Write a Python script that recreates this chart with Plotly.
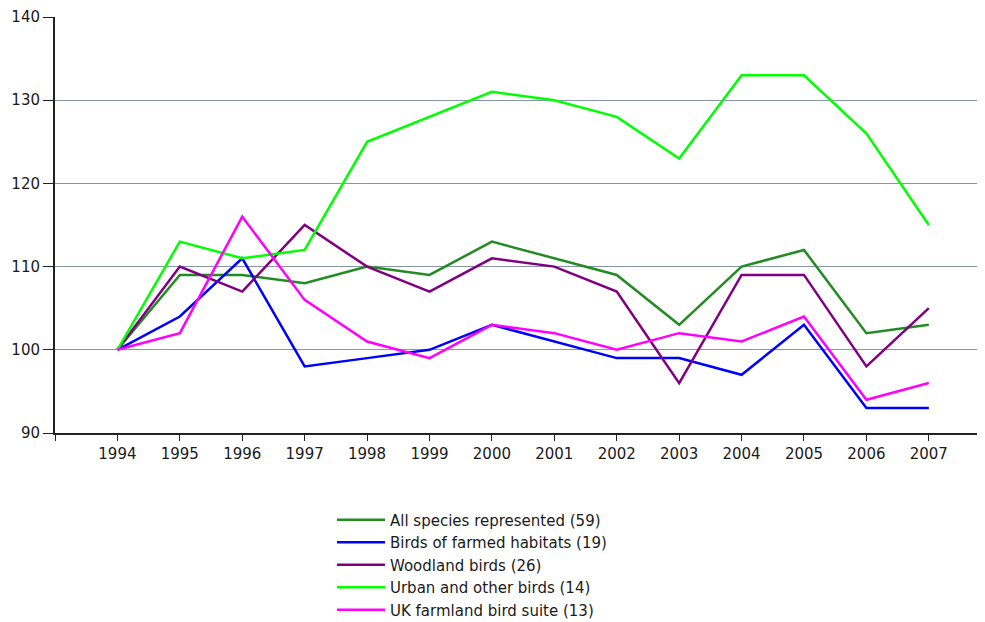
import plotly.graph_objects as go

years = list(range(1994, 2008))
all_species = [100, 109, 109, 108, 110, 109, 113, 111, 109, 103, 110, 112, 102, 103]
farmed = [100, 104, 111, 98, 99, 100, 103, 101, 99, 99, 97, 103, 93, 93]
woodland = [100, 110, 107, 115, 110, 107, 111, 110, 107, 96, 109, 109, 98, 105]
urban = [100, 113, 111, 112, 125, 128, 131, 130, 128, 123, 133, 133, 126, 115]
uk_farmland = [100, 102, 116, 106, 101, 99, 103, 102, 100, 102, 101, 104, 94, 96]
y_ticks = [90, 100, 110, 120, 130, 140]

series = [
    ("All species represented (59)", all_species, "#228B22"),
    ("Birds of farmed habitats (19)", farmed, "#0000FF"),
    ("Woodland birds (26)", woodland, "#800080"),
    ("Urban and other birds (14)", urban, "#00FF00"),
    ("UK farmland bird suite (13)", uk_farmland, "#FF00FF"),
]

fig = go.Figure()
for i, (name, vals, col) in enumerate(series):
    fig.add_trace(go.Scatter(x=years, y=vals, mode="lines", name=name,
                             legendgroup=f"g{i}",
                             line=dict(color=col, width=2.5)))

font = dict(family="DejaVu Sans, Verdana, sans-serif", size=15, color="#1a1a1a")
fig.update_layout(
    width=977, height=614,
    margin=dict(l=47, r=0, t=9, b=189, autoexpand=False),
    paper_bgcolor="white", plot_bgcolor="white",
    font=font,
    showlegend=True,
    legend=dict(xref="container", yref="container", x=0.3316, y=0.1930,
                xanchor="left", yanchor="top", traceorder="grouped",
                tracegroupgap=0, itemwidth=48, font=dict(size=15, color="#1a1a1a"),
                bgcolor="rgba(0,0,0,0)"),
    xaxis=dict(range=[1993, 2007.9], tickmode="array", tickvals=[1993] + years,
               ticktext=[""] + [str(y) for y in years], tickangle=0,
               showgrid=False, zeroline=False, showline=True, linecolor="#222222",
               linewidth=2, ticks="outside", ticklen=6, tickcolor="#222222",
               tickfont=dict(size=15)),
    yaxis=dict(range=[90, 140], tickvals=y_ticks,
               showgrid=True, gridcolor="#8596a8", gridwidth=1.3, zeroline=False,
               showline=True, linecolor="#222222", linewidth=2,
               ticks="outside", ticklen=10, tickcolor="#222222",
               tickfont=dict(size=15)),
)
fig.write_html("out.html")
